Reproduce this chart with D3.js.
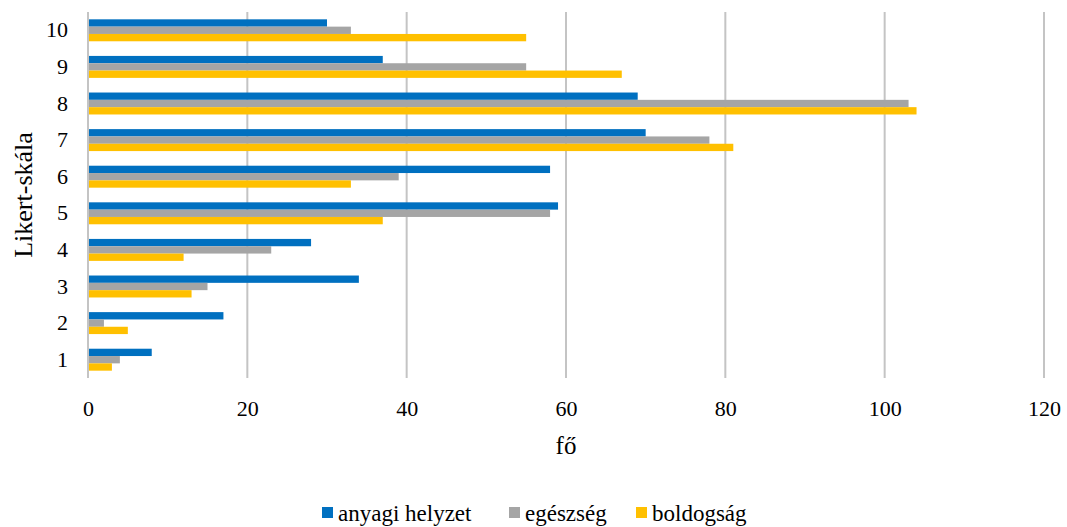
<!DOCTYPE html>
<html>
<head>
<meta charset="utf-8">
<script src="https://cdn.jsdelivr.net/npm/d3@7"></script>
<style>
  body { margin: 0; background: #fff; }
  text { font-family: "Liberation Serif", "Times New Roman", serif; fill: #000; }
</style>
</head>
<body>
<div id="chart"></div>
<script>
const categories = ["10", "9", "8", "7", "6", "5", "4", "3", "2", "1"];
const seriesNames = ["anyagi helyzet", "egészség", "boldogság"];
const seriesColors = ["#0070c0", "#a5a5a5", "#ffc000"];

// values listed in the same order as categories (10 down to 1)
const anyagi = [30, 37, 69, 70, 58, 59, 28, 34, 17, 8];
const egeszseg = [33, 55, 103, 78, 39, 58, 23, 15, 2, 4];
const boldogsag = [55, 67, 104, 81, 33, 37, 12, 13, 5, 3];
const xTicks = [0, 20, 40, 60, 80, 100, 120];

const seriesValues = [anyagi, egeszseg, boldogsag];

const width = 1067, height = 527;
const margin = { top: 12, right: 23, bottom: 149, left: 88 };
const innerW = width - margin.left - margin.right;
const innerH = height - margin.top - margin.bottom;

const svg = d3.select("#chart").append("svg")
  .attr("width", width)
  .attr("height", height);

const g = svg.append("g")
  .attr("transform", `translate(${margin.left},${margin.top})`);

const x = d3.scaleLinear().domain([0, 120]).range([0, innerW]);

const y = d3.scaleBand()
  .domain(categories)
  .range([0, innerH])
  .paddingInner(0.4)
  .paddingOuter(0.2);

const ySub = d3.scaleBand()
  .domain(seriesNames)
  .range([0, y.bandwidth()]);

// vertical gridlines
g.selectAll(".grid")
  .data(xTicks)
  .enter()
  .append("line")
  .attr("x1", d => x(d))
  .attr("x2", d => x(d))
  .attr("y1", 0)
  .attr("y2", innerH)
  .attr("stroke", "#c4c4c4")
  .attr("stroke-width", 2);

// bars
const rows = categories.flatMap((c, i) =>
  seriesNames.map((s, j) => ({ cat: c, series: s, value: seriesValues[j][i], color: seriesColors[j] }))
);

g.selectAll(".bar")
  .data(rows)
  .enter()
  .append("rect")
  .attr("x", x(0) + 1)
  .attr("y", d => y(d.cat) + ySub(d.series))
  .attr("width", d => x(d.value) - x(0) - 1)
  .attr("height", ySub.bandwidth())
  .attr("fill", d => d.color);

// x axis labels
const xAxis = g.append("g")
  .attr("transform", `translate(0,${innerH})`)
  .call(d3.axisBottom(x).tickValues(xTicks).tickSize(0).tickPadding(22));
xAxis.select(".domain").remove();
xAxis.selectAll("text")
  .style("font-family", "Liberation Serif, serif")
  .style("font-size", "22px")
  .attr("fill", "#000");

// y axis labels
const yAxis = g.append("g")
  .call(d3.axisLeft(y).tickSize(0).tickPadding(20));
yAxis.select(".domain").remove();
yAxis.selectAll("text")
  .style("font-family", "Liberation Serif, serif")
  .style("font-size", "22px")
  .attr("fill", "#000");

// axis titles
svg.append("text")
  .attr("x", margin.left + innerW / 2)
  .attr("y", 454)
  .attr("text-anchor", "middle")
  .style("font-size", "25px")
  .text("fő");

svg.append("text")
  .attr("transform", `translate(32,${margin.top + innerH / 2}) rotate(-90)`)
  .attr("text-anchor", "middle")
  .style("font-size", "26px")
  .text("Likert-skála");

// legend
const legendX = [322, 509, 636];
const legend = svg.append("g");
seriesNames.forEach((s, i) => {
  legend.append("rect")
    .attr("x", legendX[i])
    .attr("y", 507)
    .attr("width", 11)
    .attr("height", 11)
    .attr("fill", seriesColors[i]);
  legend.append("text")
    .attr("x", legendX[i] + 16)
    .attr("y", 521)
    .style("font-size", "23px")
    .text(s);
});
</script>
</body>
</html>
